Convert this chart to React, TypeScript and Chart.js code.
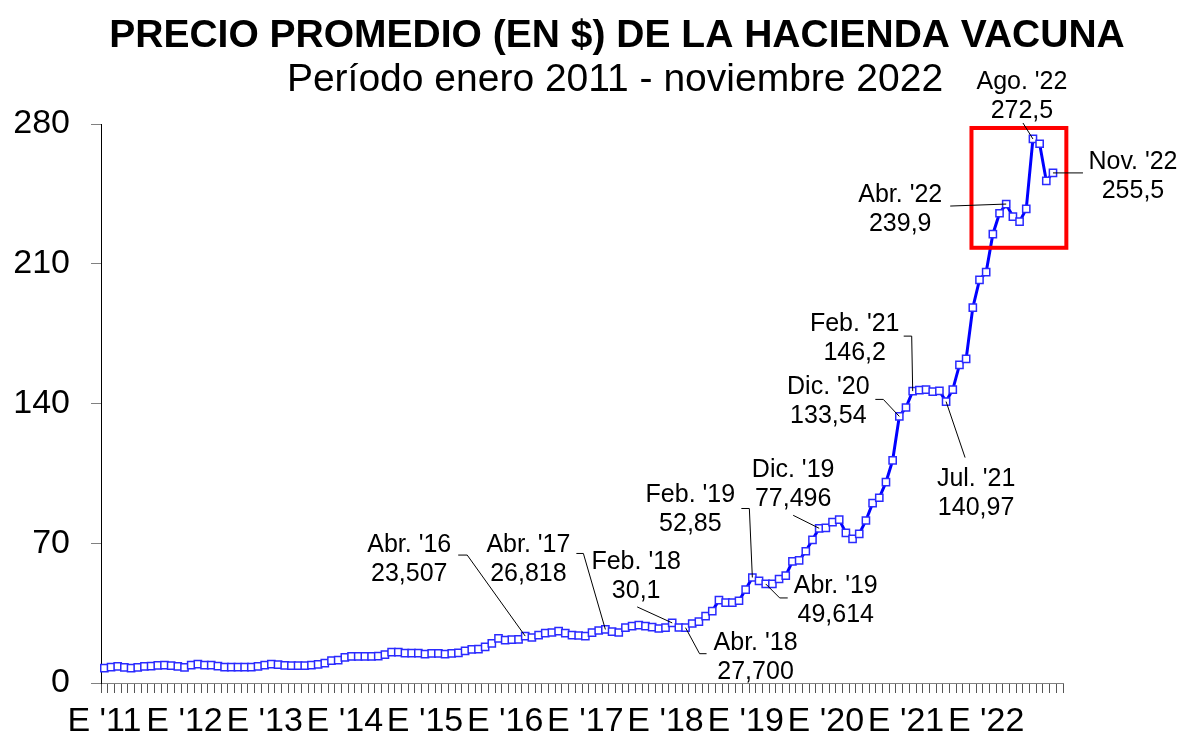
import React, { useEffect, useRef } from 'react';
import { Chart, registerables } from 'chart.js';

Chart.register(...registerables);

const FONT = "'Liberation Sans', Arial, Helvetica, sans-serif";

// Category labels: month initial + year (E = enero ... D = diciembre)
const MONTHS = ['E', 'F', 'M', 'A', 'M', 'J', 'J', 'A', 'S', 'O', 'N', 'D'];
const YEARS = ['11', '12', '13', '14', '15', '16', '17', '18', '19', '20', '21', '22'];
const categories = YEARS.flatMap((yy) => MONTHS.map((m) => `${m} '${yy}`));

// Monthly average price ($)
const p2011 = [7.5, 8.0, 8.3, 7.8, 7.5, 7.8, 8.3, 8.5, 8.8, 9.0, 8.7, 8.3];
const p2012 = [7.8, 9.0, 9.5, 9.0, 9.0, 8.5, 8.0, 8.0, 8.0, 8.0, 8.0, 8.3];
const p2013 = [9.0, 9.5, 9.2, 8.8, 8.7, 8.7, 8.7, 9.0, 9.3, 10.0, 11.2, 11.5];
const p2014 = [12.8, 13.3, 13.3, 13.3, 13.3, 13.5, 14.2, 15.5, 15.5, 15.0, 15.0, 15.0];
const p2015 = [14.5, 14.8, 14.8, 14.5, 14.8, 15.1, 16.1, 16.8, 17.0, 18.1, 19.8, 22.3];
const p2016 = [21.5, 21.7, 21.8, 23.507, 22.8, 24.0, 25.0, 25.3, 26.0, 25.0, 24.0, 23.8];
const p2017 = [23.5, 25.2, 26.3, 26.818, 25.7, 25.3, 27.7, 28.5, 29.0, 28.5, 28.0, 27.3];
const p2018 = [27.7, 30.1, 27.8, 27.7, 29.8, 30.7, 33.5, 36.0, 41.5, 40.3, 40.3, 41.2];
const p2019 = [46.8, 52.85, 51.2, 49.614, 49.6, 52.1, 53.8, 60.9, 61.4, 66.0, 71.7, 77.496];
const p2020 = [77.7, 80.6, 81.8, 75.2, 72.2, 74.7, 81.4, 90.1, 92.8, 100.6, 111.5, 133.54];
const p2021 = [138.0, 146.2, 146.7, 147.0, 145.9, 146.3, 140.97, 147.0, 159.3, 162.3, 188.0, 201.9];
const p2022 = [205.8, 224.8, 235.3, 239.9, 233.6, 231.1, 237.5, 272.5, 270.1, 251.5, 255.5, null];

const prices: (number | null)[] = [
  ...p2011, ...p2012, ...p2013, ...p2014, ...p2015, ...p2016,
  ...p2017, ...p2018, ...p2019, ...p2020, ...p2021, ...p2022,
];

const yMin = 0;
const yMax = 280;
const yStep = 70;

const TITLE = 'PRECIO PROMEDIO (EN $) DE LA HACIENDA VACUNA';
const SUBTITLE = 'Período enero 2011 - noviembre 2022';

// Callouts: index into categories, label text, text offset (px, relative to point), leader path (px, relative to point)
const callouts = [
  { idx: 63, title: "Abr. '16", value: '23,507', text: [-116, -93], lead: [[-67, -81], [-58, -81]] },
  { idx: 75, title: "Abr. '17", value: '26,818', text: [-77, -86], lead: [[-29, -76], [-22, -76]] },
  { idx: 85, title: "Feb. '18", value: '30,1', text: [-36, -63], lead: [[-35, -16]] },
  { idx: 87, title: "Abr. '18", value: '27,700', text: [70, 13], lead: [[21, 26], [14, 26]] },
  { idx: 97, title: "Feb. '19", value: '52,85', text: [-62, -84], lead: [[-11, -69], [-3, -69]] },
  { idx: 99, title: "Abr. '19", value: '49,614', text: [70, 0], lead: [[22, 14], [14, 14]] },
  { idx: 107, title: "Dic. '19", value: '77,496', text: [-26, -60], lead: [[-26, -13]] },
  { idx: 119, title: "Dic. '20", value: '133,54', text: [-71, -31], lead: [[-24, -17], [-16, -17]] },
  { idx: 121, title: "Feb. '21", value: '146,2', text: [-58, -69], lead: [[-9, -55], [-1, -55]] },
  { idx: 126, title: "Jul. '21", value: '140,97', text: [30, 75], lead: [[19, 56]] },
  { idx: 135, title: "Abr. '22", value: '239,9', text: [-106, -11], lead: [[-56, 2]] },
  { idx: 139, title: "Ago. '22", value: '272,5', text: [-11, -59], lead: [[-10, -16]] },
  { idx: 142, title: "Nov. '22", value: '255,5', text: [80, -13], lead: [[30, 0]] },
];

// Highlight box in data units (category index range, price range)
const highlight = { x0: 129.8, x1: 144.0, y0: 218, y1: 278 };

const overlay = {
  id: 'overlay',
  afterDatasetsDraw(chart: any) {
    const { ctx, scales } = chart;
    const x = scales.x;
    const y = scales.y;
    ctx.save();

    // red highlight rectangle
    const l = x.getPixelForValue(highlight.x0);
    const r = x.getPixelForValue(highlight.x1);
    const t = y.getPixelForValue(highlight.y1);
    const b = y.getPixelForValue(highlight.y0);
    ctx.strokeStyle = '#FF0000';
    ctx.lineWidth = 4;
    ctx.strokeRect(l, t, r - l, b - t);

    // callouts
    ctx.strokeStyle = '#000000';
    ctx.lineWidth = 1;
    ctx.fillStyle = '#000000';
    ctx.font = `25px ${FONT}`;
    ctx.textAlign = 'center';
    ctx.textBaseline = 'alphabetic';
    for (const c of callouts) {
      const v = prices[c.idx] as number;
      const px = x.getPixelForValue(c.idx);
      const py = y.getPixelForValue(v);
      ctx.beginPath();
      ctx.moveTo(px + c.lead[0][0], py + c.lead[0][1]);
      for (let k = 1; k < c.lead.length; k++) ctx.lineTo(px + c.lead[k][0], py + c.lead[k][1]);
      ctx.lineTo(px, py);
      ctx.stroke();
      ctx.fillText(c.title, px + c.text[0], py + c.text[1] + 9);
      ctx.fillText(c.value, px + c.text[0], py + c.text[1] + 38);
    }
    ctx.restore();
  },
  afterDraw(chart: any) {
    const { ctx } = chart;
    ctx.save();
    ctx.fillStyle = '#000000';
    ctx.textAlign = 'center';
    ctx.textBaseline = 'alphabetic';
    ctx.font = `bold 39px ${FONT}`;
    ctx.fillText(TITLE, 617, 47);
    ctx.font = `39px ${FONT}`;
    ctx.fillText(SUBTITLE, 615, 91);
    ctx.restore();
  },
};

export default function App() {
  const ref = useRef<HTMLCanvasElement>(null);
  useEffect(() => {
    document.body.style.margin = '0';
    const canvas = ref.current;
    if (!canvas) return;
    const chart = new Chart(canvas, {
      type: 'line',
      data: {
        labels: categories,
        datasets: [
          {
            data: prices,
            borderColor: '#0000FF',
            borderWidth: 3,
            pointStyle: 'rect',
            pointRadius: 5.1,
            pointHoverRadius: 5.1,
            pointBorderWidth: 1.5,
            pointBackgroundColor: '#FFFFFF',
            pointBorderColor: '#2A2AFF',
            tension: 0,
            spanGaps: false,
          },
        ],
      },
      options: {
        responsive: false,
        animation: false,
        devicePixelRatio: 1,
        layout: { padding: { top: 124, right: 118, left: 0, bottom: 0 } },
        plugins: {
          legend: { display: false },
          tooltip: { enabled: false },
          title: { display: false },
        },
        font: { family: FONT },
        scales: {
          x: {
            type: 'category',
            offset: true,
            grid: {
              offset: true,
              drawOnChartArea: false,
              drawTicks: true,
              tickLength: 10,
              color: '#555555',
              lineWidth: 1,
            },
            border: { display: true, color: '#808080', width: 1 },
            ticks: {
              autoSkip: false,
              maxRotation: 0,
              minRotation: 0,
              padding: 8,
              color: '#000000',
              font: { size: 34, family: FONT },
              callback: (_v: any, i: number) => (i % 12 === 0 ? categories[i] : ''),
            },
            afterFit: (s: any) => {
              s.height = 57;
            },
          },
          y: {
            min: yMin,
            max: yMax,
            ticks: {
              stepSize: yStep,
              padding: 21,
              color: '#000000',
              font: { size: 34, family: FONT },
            },
            grid: { drawOnChartArea: false, drawTicks: true, tickLength: 10, color: '#808080' },
            border: { display: true, color: '#000000', width: 1 },
            afterFit: (s: any) => {
              s.width = 101;
            },
          },
        },
      } as any,
      plugins: [overlay],
    });
    return () => chart.destroy();
  }, []);
  return (
    <div style={{ position: 'fixed', left: 0, top: 0, width: 1181, height: 740, background: '#FFFFFF' }}>
      <canvas ref={ref} width={1181} height={740} />
    </div>
  );
}
